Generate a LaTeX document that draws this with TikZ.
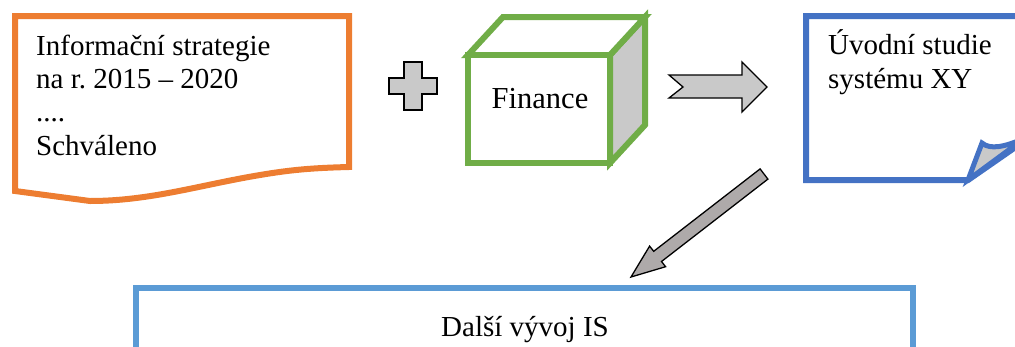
\documentclass[tikz,border=0pt]{standalone}
\usepackage{fontspec}
\setmainfont{Liberation Serif}
\definecolor{orng}{HTML}{ED7D31}
\definecolor{grn}{HTML}{70AD47}
\definecolor{blu}{HTML}{4472C4}
\definecolor{lblu}{HTML}{5B9BD5}
\definecolor{lgray}{HTML}{C9C9C9}
\definecolor{dgray}{HTML}{AEAAAA}
\tikzset{
  outl/.style={line width=6pt, line join=miter},
  blockshape/.style={draw=black, line width=1.3pt, line join=miter},
  txt/.style={inner sep=0pt, font=\fontsize{29}{33.3}\selectfont, align=left}
}
\begin{document}
\begin{tikzpicture}[x=1pt,y=-1pt]
\useasboundingbox (0,0) rectangle (1015,346);
\clip (0,0) rectangle (1015,346);
% document shape
\draw[outl, draw=orng, fill=white] (15,16) -- (349,16) -- (349,167)
  .. controls (310,168) and (290,170) .. (260,175)
  .. controls (200,185) and (150,201) .. (90,201) -- (15,191) -- cycle;
\node[txt, anchor=base west] (strat) at (36,155) {Informační strategie\\na r.\ 2015 – 2020\\....\\Schváleno};
% plus
\draw[blockshape, fill=lgray] (404,62) -- (422,62) -- (422,78) -- (437,78) -- (437,94) -- (422,94)
  -- (422,110) -- (404,110) -- (404,94) -- (389,94) -- (389,78) -- (404,78) -- cycle;
% cube
\draw[outl, draw=grn, fill=lgray] (610,55) -- (645,17) -- (645,125) -- (610,163) -- cycle;
\draw[outl, draw=grn, fill=white] (468,55) -- (503,17) -- (645,17) -- (610,55) -- cycle;
\draw[outl, draw=grn, fill=white] (468,55) rectangle (610,163);
\node[txt, anchor=base, font=\fontsize{30.5}{33}\selectfont] (fin) at (540,108) {Finance};
% right arrow
\draw[blockshape, fill=lgray] (669,75) -- (742,75) -- (742,62) -- (767,87) -- (742,112) -- (742,98)
  -- (669,98) -- (683,87) -- cycle;
% note
\draw[outl, draw=blu, fill=white] (806,16) -- (1040,16) -- (1040,130) -- (968,180) -- (806,180) -- cycle;
\draw[line width=5pt, draw=blu, fill=lgray, line join=miter] (968,180) -- (982,143)
  .. controls (990,150) and (1005,147) .. (1025,138) -- cycle;
\node[txt, anchor=base west] (uvod) at (828,88) {Úvodní studie\\systému XY};
% diagonal arrow
\draw[blockshape, fill=dgray] (760.1,168.9) -- (767.9,179.1) -- (661.5,261.5) -- (665.6,266.7)
  -- (631,277) -- (649.6,246.1) -- (653.7,251.3) -- cycle;
% bottom box
\draw[outl, draw=lblu, fill=white] (136,288) rectangle (913,370);
\node[txt, anchor=base] (dalsi) at (525,336) {Další vývoj IS};
\end{tikzpicture}
\end{document}
